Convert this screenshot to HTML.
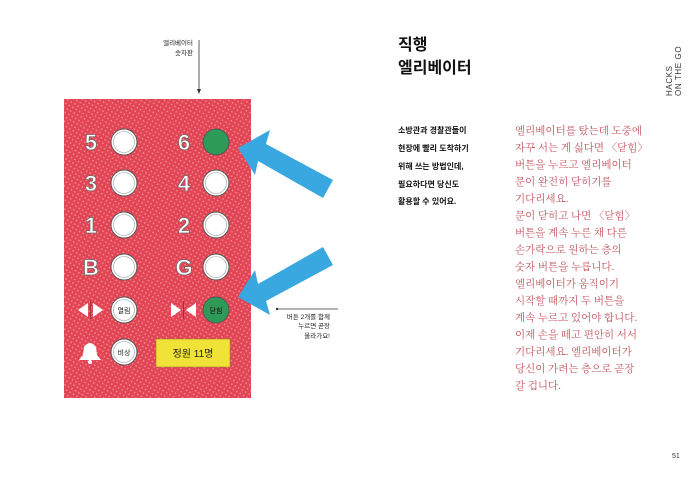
<!DOCTYPE html>
<html><head><meta charset="utf-8"><style>
body{margin:0;width:700px;height:490px;background:#fff;overflow:hidden;font-family:"Liberation Sans","Noto Sans CJK KR",sans-serif}
</style></head><body>
<svg width="700" height="490" xmlns="http://www.w3.org/2000/svg" style="position:absolute;left:0;top:0;font-family:'Liberation Sans','Noto Sans CJK KR',sans-serif">
<defs>
<pattern id="p" width="4" height="4" patternUnits="userSpaceOnUse" patternTransform="rotate(30)">
<rect width="4" height="4" fill="#e2455a"/><rect x="0" y="0" width="1.5" height="1.5" fill="#f08a70"/>
</pattern>
</defs>
<text x="193" y="45" font-size="6.5" text-anchor="end" fill="#222">엘리베이터</text>
<text x="193" y="55" font-size="6.5" text-anchor="end" fill="#222">숫자판</text>
<line x1="199" y1="40" x2="199" y2="92" stroke="#333" stroke-width="0.8"/>
<path d="M197 89 L199 94 L201 89Z" fill="#333"/>
<rect x="64" y="99" width="187" height="299" fill="url(#p)"/>
<g font-size="22" font-weight="bold" fill="#fff" stroke="#666" stroke-width="0.7" text-anchor="middle">
<text x="91" y="150">5</text><text x="184" y="150">6</text>
<text x="91" y="191">3</text><text x="184" y="191">4</text>
<text x="91" y="233">1</text><text x="184" y="233">2</text>
<text x="91" y="275">B</text><text x="184" y="275">G</text>
</g>
<g stroke="#555" stroke-width="1">
<circle cx="124" cy="142" r="13" fill="#fff"/><circle cx="216" cy="142" r="13" fill="#2e9a58"/>
<circle cx="124" cy="183" r="13" fill="#fff"/><circle cx="216" cy="183" r="13" fill="#fff"/>
<circle cx="124" cy="225" r="13" fill="#fff"/><circle cx="216" cy="225" r="13" fill="#fff"/>
<circle cx="124" cy="267" r="13" fill="#fff"/><circle cx="216" cy="267" r="13" fill="#fff"/>
<circle cx="124" cy="310" r="13" fill="#fff"/><circle cx="216" cy="310" r="13" fill="#2e9a58"/>
<circle cx="124" cy="352" r="13" fill="#fff"/>
</g>
<g fill="none" stroke="#999" stroke-width="0.6">
<circle cx="124" cy="142" r="10.5"/><circle cx="124" cy="183" r="10.5"/><circle cx="216" cy="183" r="10.5"/>
<circle cx="124" cy="225" r="10.5"/><circle cx="216" cy="225" r="10.5"/><circle cx="124" cy="267" r="10.5"/>
<circle cx="216" cy="267" r="10.5"/><circle cx="124" cy="310" r="10.5"/><circle cx="124" cy="352" r="10.5"/>
</g>
<text x="124" y="313" font-size="7" text-anchor="middle" fill="#222">열림</text>
<text x="216" y="313" font-size="7" text-anchor="middle" fill="#111">닫힘</text>
<text x="124" y="355" font-size="7" text-anchor="middle" fill="#222">비상</text>
<path d="M88 303 L78 310 L88 317Z M93 303 L103 310 L93 317Z" fill="#fff"/>
<line x1="90.5" y1="301" x2="90.5" y2="319" stroke="#a03040" stroke-width="1"/>
<path d="M171 303 L181 310 L171 317Z M196 303 L186 310 L196 317Z" fill="#fff"/>
<line x1="183.5" y1="301" x2="183.5" y2="319" stroke="#a03040" stroke-width="1"/>
<path d="M79 360 L101 360 L97 355 L96 347 Q90 339 84 347 L83 355Z" fill="#fff"/>
<circle cx="90" cy="362" r="2" fill="#fff"/>
<rect x="156" y="339" width="74" height="28" fill="#f0e236" stroke="#a08030" stroke-width="0.6"/>
<text x="193" y="357" font-size="10" text-anchor="middle" fill="#222">정원 11명</text>
<polygon points="238,148 270,130 266,144 333,180 323,198 258,161 255,175" fill="#3aa8e0"/>
<polygon points="238,297 270,315 266,301 333,265 323,247 258,284 255,270" fill="#3aa8e0"/>
<circle cx="277" cy="309" r="1.2" fill="#333"/>
<line x1="277" y1="309" x2="338" y2="309" stroke="#333" stroke-width="0.7"/>
<g font-size="6.5" text-anchor="end" fill="#222">
<text x="330" y="319">버튼 2개를 함께</text><text x="330" y="328">누르면 곧장</text><text x="330" y="338">올라가요!</text>
</g>
<text x="398" y="50" font-size="16" font-weight="bold" fill="#111">직행</text>
<text x="398" y="73" font-size="16" font-weight="bold" fill="#111">엘리베이터</text>
<g transform="translate(672,96) rotate(-90)" font-size="8" fill="#333" letter-spacing="0.6">
<text x="0" y="0">HACKS</text><text x="0" y="9">ON THE GO</text>
</g>
<g font-size="8" font-weight="bold" fill="#111">
<text x="398" y="133">소방관과 경찰관들이</text>
<text x="398" y="151">현장에 빨리 도착하기</text>
<text x="398" y="169">위해 쓰는 방법인데,</text>
<text x="398" y="187">필요하다면 당신도</text>
<text x="398" y="204">활용할 수 있어요.</text>
</g>
<g font-size="10.5" fill="#c2545e" font-family="'Liberation Serif','Noto Serif CJK SC',serif">
<text x="515" y="134">엘리베이터를 탔는데 도중에</text>
<text x="515" y="151">자꾸 서는 게 싫다면 〈닫힘〉</text>
<text x="515" y="168">버튼을 누르고 엘리베이터</text>
<text x="515" y="185">문이 완전히 닫히기를</text>
<text x="515" y="202">기다리세요.</text>
<text x="515" y="219">문이 닫히고 나면 〈닫힘〉</text>
<text x="515" y="236">버튼을 계속 누른 채 다른</text>
<text x="515" y="253">손가락으로 원하는 층의</text>
<text x="515" y="270">숫자 버튼을 누릅니다.</text>
<text x="515" y="287">엘리베이터가 움직이기</text>
<text x="515" y="304">시작할 때까지 두 버튼을</text>
<text x="515" y="321">계속 누르고 있어야 합니다.</text>
<text x="515" y="338">이제 손을 떼고 편안히 서서</text>
<text x="515" y="355">기다리세요. 엘리베이터가</text>
<text x="515" y="372">당신이 가려는 층으로 곧장</text>
<text x="515" y="389">갈 겁니다.</text>
</g>
<text x="672" y="458" font-size="7" fill="#333">51</text>
</svg>
</body></html>
